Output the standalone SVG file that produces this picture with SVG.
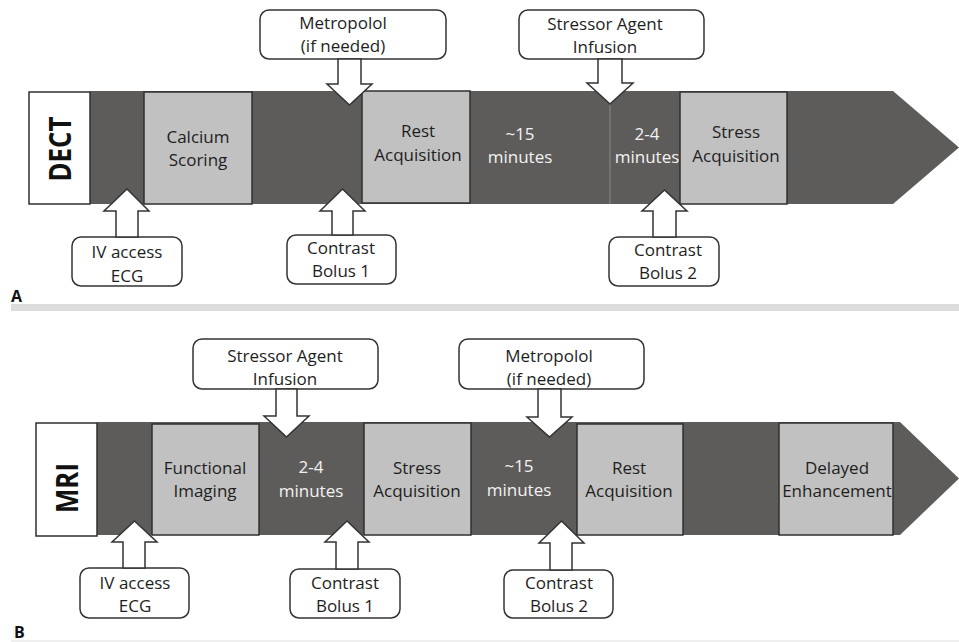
<svg xmlns="http://www.w3.org/2000/svg" width="959" height="642" viewBox="0 0 959 642">
<style>
.band{fill:#5e5c5b}
.step{fill:#c1c1c1;stroke:#2f2f2f;stroke-width:1.5}
.lbl{fill:#ffffff;stroke:#2f2f2f;stroke-width:1.5}
.call{fill:#ffffff;stroke:#333;stroke-width:1.5}
.arr{fill:#ffffff;stroke:#333;stroke-width:1.5;stroke-linejoin:miter}
.t{font-family:"Open Sans","Liberation Sans",sans-serif;font-size:17px;fill:#1e1e1e;text-anchor:middle}
.w{font-family:"Open Sans","Liberation Sans",sans-serif;font-size:17px;fill:#f2f2f2;text-anchor:middle}
.big{font-family:"Open Sans","Liberation Sans",sans-serif;font-size:31px;font-weight:bold;fill:#111;text-anchor:middle}
.pl{font-family:"Open Sans","Liberation Sans",sans-serif;font-size:16px;font-weight:bold;fill:#111}
.sep{fill:#dcdcdc}
</style>
<rect width="959" height="642" fill="#ffffff"/>

<!-- Panel A -->
<g id="panelA">
<g id="A-band"><polygon class="band" points="90,91 893,91 959,147.5 893,204 90,204"/>
<line x1="610" y1="91" x2="610" y2="204" stroke="#8a8a8a" stroke-width="1"/></g>
<g id="A-dect"><rect class="lbl" x="29" y="92" width="61" height="112"/>
<text class="big" transform="translate(71,149) rotate(-90)" x="0" y="0" textLength="65" lengthAdjust="spacingAndGlyphs">DECT</text></g>
<g id="A-calcium"><rect class="step" x="144" y="92" width="108" height="112"/>
<text class="t" x="198" y="143">Calcium</text><text class="t" x="198" y="166">Scoring</text></g>
<g id="A-rest"><rect class="step" x="362" y="91" width="108" height="112"/>
<text class="t" x="418" y="137">Rest</text><text class="t" x="418" y="161">Acquisition</text></g>
<g id="A-15min"><text class="w" x="520" y="140">~15</text><text class="w" x="520" y="163">minutes</text></g>
<g id="A-24min"><text class="w" x="647" y="140">2-4</text><text class="w" x="647" y="163">minutes</text></g>
<g id="A-stress"><rect class="step" x="680" y="92" width="107" height="112"/>
<text class="t" x="736" y="138">Stress</text><text class="t" x="736" y="162">Acquisition</text></g>
<g id="A-metro"><rect class="call" x="260" y="10" width="186" height="49" rx="9"/>
<text class="t" x="343" y="29">Metropolol</text><text class="t" x="343" y="52">(if needed)</text></g>
<g id="A-stressor"><rect class="call" x="519" y="10" width="185" height="49" rx="9"/>
<text class="t" x="605" y="30">Stressor Agent</text><text class="t" x="605" y="53">Infusion</text></g>
<g id="A-iv"><rect class="call" x="72" y="237" width="110" height="49" rx="9"/>
<text class="t" x="127" y="258">IV access</text><text class="t" x="127" y="282">ECG</text></g>
<g id="A-bolus1"><rect class="call" x="287" y="235" width="109" height="49" rx="9"/>
<text class="t" x="341" y="254">Contrast</text><text class="t" x="341" y="277">Bolus 1</text></g>
<g id="A-bolus2"><rect class="call" x="609" y="237" width="110" height="49" rx="9"/>
<text class="t" x="668" y="256">Contrast</text><text class="t" x="668" y="279">Bolus 2</text></g>
<text class="pl" x="11" y="302">A</text>
<rect class="sep" x="11" y="304" width="948" height="7"/>
</g>

<!-- Panel B -->
<g id="panelB">
<g id="B-band"><polygon class="band" points="97,422 900,422 959,478.5 900,535 97,535"/></g>
<g id="B-mri"><rect class="lbl" x="36" y="423" width="61" height="113"/>
<text class="big" transform="translate(78,488) rotate(-90)" x="0" y="0" textLength="50" lengthAdjust="spacingAndGlyphs">MRI</text></g>
<g id="B-functional"><rect class="step" x="152" y="424" width="107" height="111"/>
<text class="t" x="205" y="474">Functional</text><text class="t" x="205" y="497">Imaging</text></g>
<g id="B-24min"><text class="w" x="311" y="473">2-4</text><text class="w" x="311" y="497">minutes</text></g>
<g id="B-stress"><rect class="step" x="364" y="423" width="107" height="112"/>
<text class="t" x="417" y="474">Stress</text><text class="t" x="417" y="497">Acquisition</text></g>
<g id="B-15min"><text class="w" x="519" y="472">~15</text><text class="w" x="519" y="496">minutes</text></g>
<g id="B-rest"><rect class="step" x="577" y="424" width="106" height="111"/>
<text class="t" x="629" y="474">Rest</text><text class="t" x="629" y="497">Acquisition</text></g>
<g id="B-delayed"><rect class="step" x="779" y="423" width="114" height="112"/>
<text class="t" x="837" y="474">Delayed</text><text class="t" x="837" y="497">Enhancement</text></g>
<g id="B-stressor"><rect class="call" x="193" y="339" width="185" height="50" rx="9"/>
<text class="t" x="285" y="362">Stressor Agent</text><text class="t" x="285" y="385">Infusion</text></g>
<g id="B-metro"><rect class="call" x="459" y="339" width="185" height="50" rx="9"/>
<text class="t" x="549" y="362">Metropolol</text><text class="t" x="549" y="385">(if needed)</text></g>
<g id="B-iv"><rect class="call" x="80" y="568" width="109" height="50" rx="9"/>
<text class="t" x="135" y="589">IV access</text><text class="t" x="135" y="612">ECG</text></g>
<g id="B-bolus1"><rect class="call" x="290" y="569" width="110" height="49" rx="9"/>
<text class="t" x="345" y="589">Contrast</text><text class="t" x="345" y="612">Bolus 1</text></g>
<g id="B-bolus2"><rect class="call" x="504" y="570" width="109" height="48" rx="9"/>
<text class="t" x="559" y="589">Contrast</text><text class="t" x="559" y="612">Bolus 2</text></g>
<text class="pl" x="14" y="638">B</text>
<rect x="11" y="640" width="948" height="2" fill="#efefef"/>
</g>

<!-- Connectors: block arrows -->
<g id="connectors">
<polygon class="arr" points="338,59 338,84 327,84 349.5,105 372,84 361,84 361,59"/>
<polygon class="arr" points="598,59 598,83 587,83 610,104 633,83 622,83 622,59"/>
<polygon class="arr" points="116,237 116,211 104,211 127,189 149,211 138,211 138,237"/>
<polygon class="arr" points="332,235 332,211 320,211 342.5,189 365,211 353,211 353,235"/>
<polygon class="arr" points="653,237 653,211 642,211 664.5,190 687,211 676,211 676,237"/>
<polygon class="arr" points="276,389 276,416 264,416 286.5,437 309,416 297,416 297,389"/>
<polygon class="arr" points="538,389 538,417 527,417 549.5,437 572,417 561,417 561,389"/>
<polygon class="arr" points="123,568 123,542 112,542 134.5,521 157,542 145,542 145,568"/>
<polygon class="arr" points="336,569 336,542 325,542 347,521 369,542 358,542 358,569"/>
<polygon class="arr" points="550,570 550,543 539,543 561.5,521 584,543 572,543 572,570"/>
</g>
</svg>
